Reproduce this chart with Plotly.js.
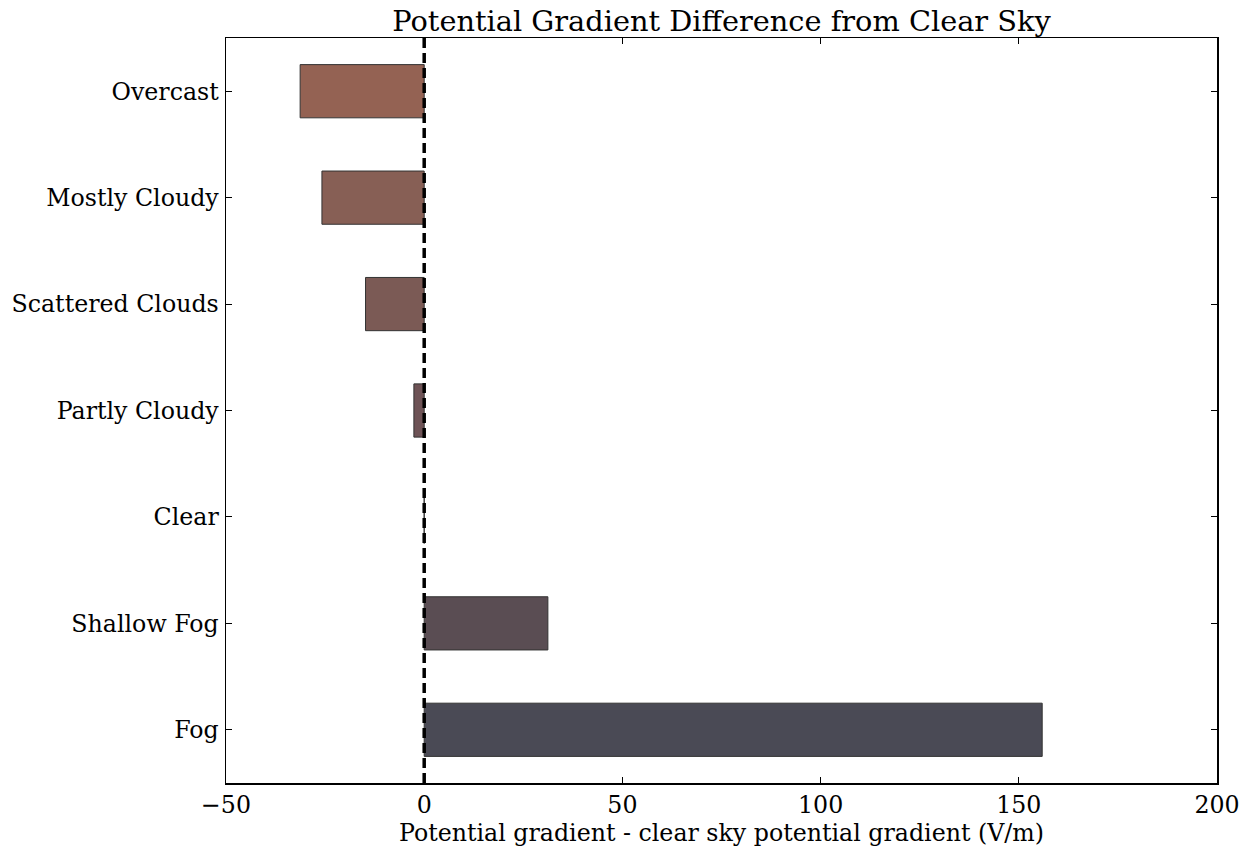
<!DOCTYPE html>
<html>
<head>
<meta charset="utf-8">
<script src="https://cdn.plot.ly/plotly-3.0.1.min.js"></script>
<style>html,body{margin:0;padding:0;background:#fff;}#chart{width:1247px;height:848px;}</style>
</head>
<body>
<div id="chart"></div>
<script>
// Sky condition categories, bottom to top
const categories = ["Fog", "Shallow Fog", "Clear", "Partly Cloudy", "Scattered Clouds", "Mostly Cloudy", "Overcast"];
// Difference from clear-sky potential gradient (V/m)
const differences = [155.9, 31.2, 0, -2.6, -14.8, -25.8, -31.3];
const barColors = ["#4a4a55", "#5a4d53", "#665155", "#6e5356", "#7b5a55", "#875f55", "#946253"];
const xTicks = [-50, 0, 50, 100, 150, 200];
const xTickText = ["\u221250", "0", "50", "100", "150", "200"];

const font = "DejaVu Serif, serif";

const trace = {
  type: "bar",
  orientation: "h",
  y: categories.map((c, i) => i),
  x: differences,
  width: 0.5,
  marker: { color: barColors, line: { color: "#333333", width: 1 } },
  hoverinfo: "x+text",
  text: categories,
  textposition: "none"
};

const layout = {
  width: 1247,
  height: 848,
  margin: { l: 226, r: 30, t: 38, b: 65 },
  paper_bgcolor: "#ffffff",
  plot_bgcolor: "#ffffff",
  showlegend: false,
  font: { family: font, color: "#000000", size: 23.7 },
  title: {
    text: "Potential Gradient Difference from Clear Sky",
    font: { family: font, size: 28.8, color: "#000000" },
    x: 0.5, xref: "paper", y: 0.975, yanchor: "middle"
  },
  xaxis: {
    range: [-50, 200],
    tickvals: xTicks,
    ticktext: xTickText,
    ticks: "inside",
    ticklen: 6,
    tickwidth: 1,
    tickcolor: "#000",
    mirror: "allticks",
    showline: true,
    linecolor: "#000",
    linewidth: 1.5,
    showgrid: false,
    zeroline: false,
    tickfont: { family: font, size: 23.7 },
    title: { text: "Potential gradient - clear sky potential gradient (V/m)", font: { family: font, size: 23.7 }, standoff: 6 }
  },
  yaxis: {
    range: [-0.5, 6.5],
    tickvals: categories.map((c, i) => i),
    ticktext: categories,
    ticks: "inside",
    ticklen: 6,
    tickwidth: 1,
    tickcolor: "#000",
    mirror: "allticks",
    showline: true,
    linecolor: "#000",
    linewidth: 1.5,
    showgrid: false,
    zeroline: false,
    ticklabelstandoff: 1,
    tickfont: { family: font, size: 23.7 }
  },
  shapes: [{
    type: "line", xref: "x", yref: "paper",
    x0: 0, x1: 0, y0: 0, y1: 1,
    line: { color: "#000000", width: 3.5, dash: "10px,5px" }
  }]
};

Plotly.newPlot("chart", [trace], layout, { displayModeBar: false, staticPlot: true });
</script>
</body>
</html>
